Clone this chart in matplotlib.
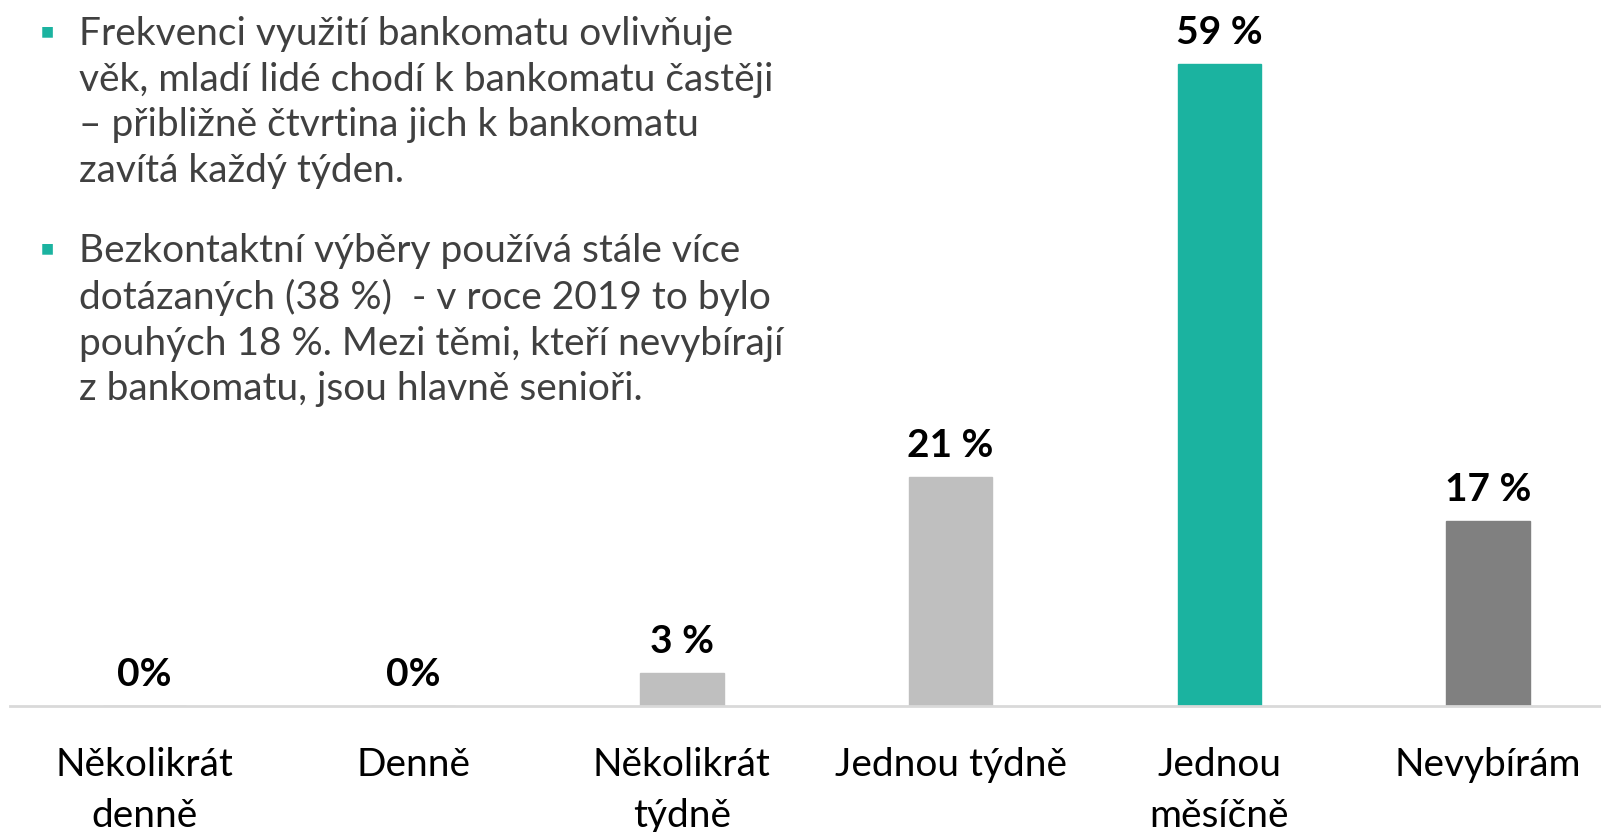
import numpy as np
import matplotlib.pyplot as plt

plt.rcParams['font.family'] = ['Lato', 'DejaVu Sans']

categories = ['Několikrát\ndenně', 'Denně', 'Několikrát\ntýdně', 'Jednou týdně', 'Jednou\nměsíčně', 'Nevybírám']
values = [0, 0, 3, 21, 59, 17]
value_labels = ['0%', '0%', '3 %', '21 %', '59 %', '17 %']
colors = ['#BFBFBF', '#BFBFBF', '#BFBFBF', '#BFBFBF', '#1BB3A0', '#808080']

bullets = [
    'Frekvenci využití bankomatu ovlivňuje\nvěk, mladí lidé chodí k bankomatu častěji\n– přibližně čtvrtina jich k bankomatu\nzavítá každý týden.',
    'Bezkontaktní výběry používá stále více\ndotázaných (38 %)  - v roce 2019 to bylo\npouhých 18 %. Mezi těmi, kteří nevybírají\nz bankomatu, jsou hlavně senioři.',
]

fig = plt.figure(figsize=(16.01, 8.32), dpi=100)
ax = fig.add_axes([10 / 1601, 0.152, 1591 / 1601, 0.848])

x = np.arange(len(categories))
bars = ax.bar(x, values, width=0.31, color=colors, edgecolor=colors, linewidth=1)
ax.set_xlim(-0.5, 5.42)
ax.set_ylim(0, 64.9)

for xi, v, lab in zip(x, values, value_labels):
    ax.annotate(lab, (xi, v), xytext=(0, 10), textcoords='offset points',
                ha='center', va='bottom', fontsize=28, fontweight='bold', color='black')

for s in ['top', 'right', 'left']:
    ax.spines[s].set_visible(False)
ax.spines['bottom'].set_color('#D9D9D9')
ax.spines['bottom'].set_linewidth(2)
ax.set_yticks([])
ax.set_xticks(x)
ax.set_xticklabels(categories, fontsize=28, color='black', linespacing=1.5)
ax.tick_params(axis='x', length=0, pad=30)
for t in ax.get_xticklabels():
    t.set_verticalalignment('top')

# bullet text block
tops = [832 - 16, 832 - 233]
for top, txt in zip(tops, bullets):
    fig.text(79 / 1601, top / 832, txt, ha='left', va='top', fontsize=28,
             color='#404040', linespacing=1.33)
    fig.text(47 / 1601, (top - 8) / 832, '■', ha='center', va='top', fontsize=10,
             color='#1BB3A0', family='DejaVu Sans')

fig.savefig('out.png', dpi=100)
